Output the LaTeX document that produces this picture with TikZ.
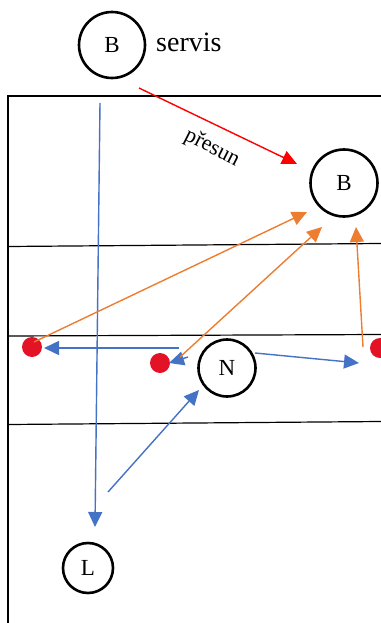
\documentclass[tikz,border=0pt]{standalone}
\usepackage{fontspec}
\setmainfont{Liberation Serif}
\usetikzlibrary{arrows.meta}
\definecolor{cblue}{HTML}{4472C4}
\definecolor{corange}{HTML}{ED7D31}
\definecolor{cred}{HTML}{FF0000}
\definecolor{cdot}{HTML}{E31225}
\tikzset{
  player/.style={draw=black, line width=2.6pt, circle, inner sep=0pt, minimum size=#1, font=\fontsize{23}{26}\selectfont},
  ball/.style={fill=cdot, circle, inner sep=0pt, minimum size=20pt},
  arr/.style={line width=1.4pt, -{Triangle[length=15pt,width=14pt]}},
  bluearr/.style={arr, draw=cblue, fill=cblue},
  orarr/.style={arr, draw=corange, fill=corange},
  redarr/.style={arr, draw=cred, fill=cred},
  court/.style={draw=black, line width=2.6pt},
  netline/.style={draw=black, line width=1.2pt}
}
\begin{document}
\begin{tikzpicture}[x=1pt,y=-1pt]
\useasboundingbox (0,0) rectangle (380,623);
% court
\coordinate (ctr) at (381,96);
\coordinate (ctl) at (8,96);
\coordinate (cbl) at (8,624);
\draw[court] (ctr) -- (ctl) -- (cbl);
\coordinate (l1a) at (8,246.5); \coordinate (l1b) at (381,243.5);
\coordinate (l2a) at (8,336); \coordinate (l2b) at (381,334.5);
\coordinate (l3a) at (8,424.5); \coordinate (l3b) at (381,421.5);
\draw[netline] (l1a) -- (l1b);
\draw[netline] (l2a) -- (l2b);
\draw[netline] (l3a) -- (l3b);
% players
\node[player=66pt] (Bs) at (112,45) {B};
\node[font=\fontsize{28}{30}\selectfont, anchor=west, inner sep=0pt] (servis) at (156,42) {servis};
\node[player=67pt] (Br) at (344,183) {B};
\node[player=57pt] (N) at (227,368) {N};
\node[player=50pt] (L) at (88,568) {L};
% balls
\node[ball] (d1) at (32,347) {};
\node[ball] (d2) at (160,363) {};
\node[ball] (d3) at (380,348) {};
% red move
\coordinate (r0) at (139,88);
\coordinate (r1) at (297,164);
\draw[redarr] (r0) -- (r1);
\node[font=\fontsize{22}{24}\selectfont, rotate=-27, inner sep=0pt] (presun) at (212,148) {přesun};
% blue arrows
\coordinate (b1s) at (100,103); \coordinate (b1e) at (95,527);
\draw[bluearr] (b1s) -- (b1e);
\coordinate (b2s) at (179,348); \coordinate (b2e) at (44,348);
\draw[bluearr] (b2s) -- (b2e);
\coordinate (b3s) at (188,357); \coordinate (b3e) at (169,363);
\draw[bluearr] (b3s) -- (b3e);
\coordinate (b4s) at (255,353); \coordinate (b4e) at (359,363);
\draw[bluearr] (b4s) -- (b4e);
\coordinate (b5s) at (108,492); \coordinate (b5e) at (199,390);
\draw[bluearr] (b5s) -- (b5e);
% orange arrows
\coordinate (o1s) at (34,342); \coordinate (o1e) at (307,212);
\draw[orarr] (o1s) -- (o1e);
\coordinate (o2s) at (180,357); \coordinate (o2e) at (322,227);
\draw[orarr] (o2s) -- (o2e);
\coordinate (o3s) at (363,347); \coordinate (o3e) at (356,227);
\draw[orarr] (o3s) -- (o3e);
\end{tikzpicture}
\end{document}
